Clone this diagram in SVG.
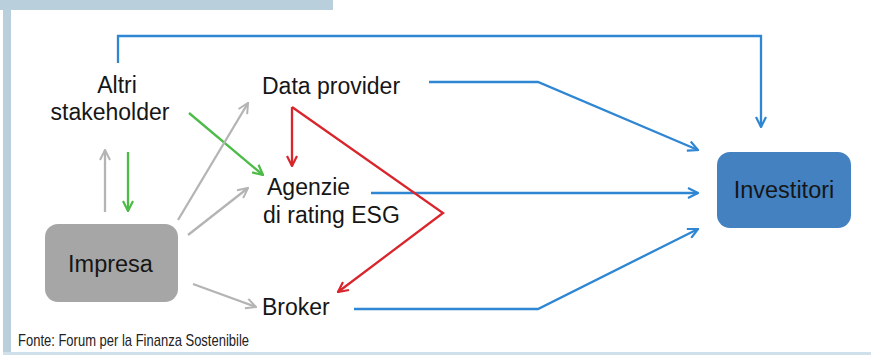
<svg xmlns="http://www.w3.org/2000/svg" width="871" height="355" viewBox="0 0 871 355">
<style>
.lbl{font-family:"Liberation Sans",Arial,sans-serif;font-size:23px;fill:#161616}
.box{font-family:"Liberation Sans",Arial,sans-serif;font-size:23.5px;fill:#161616}
.src{font-family:"Liberation Sans Narrow","Liberation Sans",Arial,sans-serif;font-size:17px;fill:#222}
.c{fill:none;stroke-width:2.3;stroke-linejoin:miter}
.gray{stroke:#b4b4b4}
.blue{stroke:#2f86d3}
.red{stroke:#d9252c}
.green{stroke:#4dbb47}
</style>
<defs>
<marker id="ag" viewBox="0 0 12 12" refX="11" refY="6" markerWidth="12" markerHeight="12" markerUnits="userSpaceOnUse" orient="auto"><path d="M1,1 L11,6 L1,11" fill="none" stroke="#b4b4b4" stroke-width="2"/></marker>
<marker id="ab" viewBox="0 0 12 12" refX="11" refY="6" markerWidth="12" markerHeight="12" markerUnits="userSpaceOnUse" orient="auto"><path d="M1,1 L11,6 L1,11" fill="none" stroke="#2f86d3" stroke-width="2.2"/></marker>
<marker id="ar" viewBox="0 0 12 12" refX="11" refY="6" markerWidth="12" markerHeight="12" markerUnits="userSpaceOnUse" orient="auto"><path d="M1,1 L11,6 L1,11" fill="none" stroke="#d9252c" stroke-width="2.2"/></marker>
<marker id="agr" viewBox="0 0 12 12" refX="11" refY="6" markerWidth="12" markerHeight="12" markerUnits="userSpaceOnUse" orient="auto"><path d="M1,1 L11,6 L1,11" fill="none" stroke="#4dbb47" stroke-width="2.2"/></marker>
</defs>
<rect width="871" height="355" fill="#fff"/>
<g id="frame">
<rect x="0" y="0" width="333" height="10" fill="#b9cfdc"/>
<rect x="3" y="0" width="8" height="353" fill="#b9cfdc"/>
<rect x="3" y="352" width="868" height="3" fill="#cfe0ea"/>
</g>
<g id="connectors">
<path class="c blue" d="M118,63 V36 H761 V127" marker-end="url(#ab)"/>
<path class="c blue" d="M429,82 H538 L698,150" marker-end="url(#ab)"/>
<path class="c blue" d="M371,193 H698" marker-end="url(#ab)"/>
<path class="c blue" d="M354,309 H538 L698,229" marker-end="url(#ab)"/>
<path class="c red" d="M292,107 V166" marker-end="url(#ar)"/>
<path class="c red" d="M292,107 L443,213 L338,292" marker-end="url(#ar)"/>
<path class="c green" d="M189,113 L263,175" marker-end="url(#agr)"/>
<path class="c green" d="M128,152 V211" marker-end="url(#agr)"/>
<path class="c gray" d="M105,212 V150" marker-end="url(#ag)"/>
<path class="c gray" d="M178,220 L248,103" marker-end="url(#ag)"/>
<path class="c gray" d="M188,235 L248,188" marker-end="url(#ag)"/>
<path class="c gray" d="M193,284 L256,307" marker-end="url(#ag)"/>
</g>
<g id="impresa">
<rect x="45" y="224" width="133" height="78" rx="13" fill="#a6a6a6"/>
<text class="box" x="110.5" y="272" text-anchor="middle">Impresa</text>
</g>
<g id="investitori">
<rect x="717" y="152" width="134" height="76" rx="13" fill="#4381c1"/>
<text class="box" x="784" y="198" text-anchor="middle">Investitori</text>
</g>
<g id="altri">
<text class="lbl" x="117" y="93" text-anchor="middle">Altri</text>
<text class="lbl" x="110" y="120" text-anchor="middle">stakeholder</text>
</g>
<g id="data-provider">
<text class="lbl" x="262" y="94">Data provider</text>
</g>
<g id="agenzie">
<text class="lbl" x="267" y="195">Agenzie</text>
<text class="lbl" x="263" y="223">di rating ESG</text>
</g>
<g id="broker">
<text class="lbl" x="262" y="315">Broker</text>
</g>
<text class="src" x="18" y="346" textLength="231" lengthAdjust="spacingAndGlyphs">Fonte: Forum per la Finanza Sostenibile</text>
</svg>
